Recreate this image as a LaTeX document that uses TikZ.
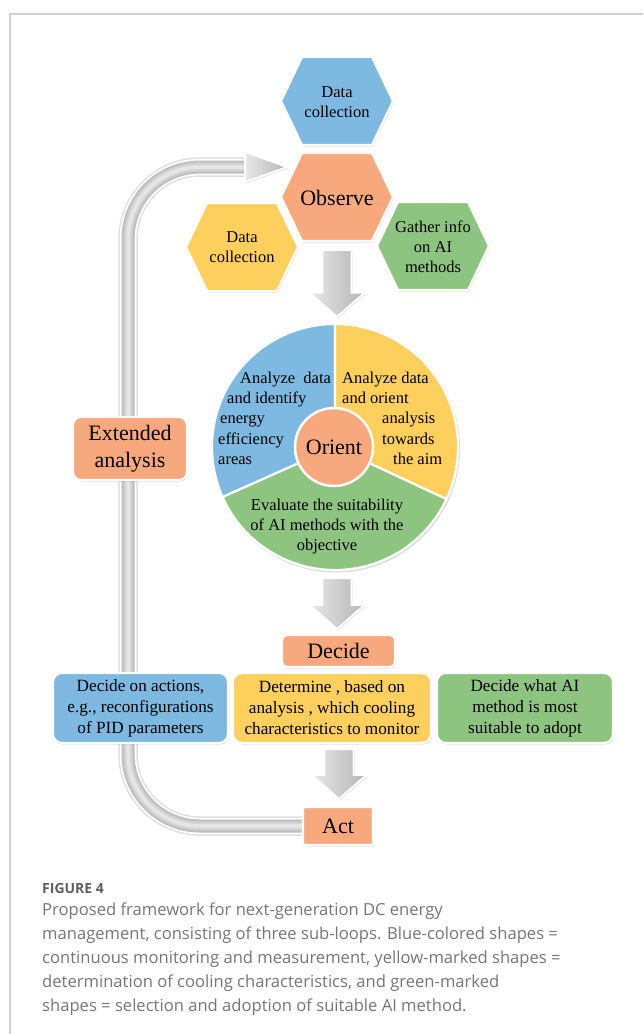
\documentclass[tikz,border=0pt]{standalone}
\usepackage{fontspec}
\setmainfont{Liberation Serif}
\newfontfamily\capfont{Open Sans}
\usetikzlibrary{calc,shadows}
\definecolor{cblue}{HTML}{7DB9E1}
\definecolor{corange}{HTML}{F8A87D}
\definecolor{cyellow}{HTML}{FDCF5C}
\definecolor{cgreen}{HTML}{8DC47F}
\definecolor{capgray}{HTML}{767676}
\definecolor{figgray}{HTML}{606060}
\definecolor{framegray}{HTML}{D2D2D2}
\newcommand{\ftsmall}{\fontsize{16.5}{20}\selectfont}
\newcommand{\ftbox}{\fontsize{17.2}{21}\selectfont}
\newcommand{\ftbig}{\fontsize{22}{27}\selectfont}
\newcommand{\ftcap}{\capfont\fontsize{16.6}{24}\selectfont}
\newcommand{\ftfig}{\capfont\bfseries\fontsize{14}{16}\selectfont}
\pgfdeclarelayer{background}
\pgfsetlayers{background,main}
\tikzset{
  edgew/.style={draw=white, line width=2.2pt,
    drop shadow={opacity=0.28, shadow xshift=1pt, shadow yshift=-1.5pt}},
  hexstyle/.style={edgew},
  box/.style={edgew, rounded corners=9pt, align=center, inner sep=0pt, font=\ftbox},
  lbl/.style={font=\ftsmall, align=center, inner sep=0pt},
  sectorlbl/.style={font=\ftsmall, anchor=base west, inner sep=0pt},
  sector/.style={draw=white, line width=2.2pt},
  blockarr/.style={draw=white, line width=1.8pt, left color=gray!18, right color=gray!58,
    drop shadow={opacity=0.22, shadow xshift=1pt, shadow yshift=-1.5pt}},
  tube/.style={gray!25, line width=19.5pt, rounded corners=72pt,
    postaction={draw=white, line width=16.5pt},
    postaction={draw=gray!52, line width=13pt},
    postaction={draw=gray!42, line width=10pt},
    postaction={draw=gray!32, line width=7pt},
    postaction={draw=gray!20, line width=3.5pt}},
  capline/.style={anchor=base west, inner sep=0pt, font=\ftcap, text=capgray}
}
\newcommand{\hexat}[3]{%
  \path[hexstyle, fill=#3] (#1-56,#2) -- (#1-35,#2-44) -- (#1+35,#2-44) -- (#1+56,#2)
    -- (#1+35,#2+44) -- (#1-35,#2+44) -- cycle;}
\newcommand{\myblockarrow}[2]{%
  \path[blockarr] let \p1=(#1), \p2=(#2) in
  (\x1-14.5pt,\y1) -- (\x1+14.5pt,\y1) -- (\x1+14.5pt,\y2+24pt) -- (\x1+27.5pt,\y2+24pt)
  -- (\x1,\y2) -- (\x1-27.5pt,\y2+24pt) -- (\x1-14.5pt,\y2+24pt) -- cycle;}
\begin{document}
\begin{tikzpicture}[x=1pt,y=-1pt]
\useasboundingbox (0,0) rectangle (643,1034);
% frame
\draw[framegray, line width=1.2pt] (10,1034) -- (10,14) -- (643,14);

% hexagons
\hexat{337}{101}{cblue}
\hexat{242}{247}{cyellow}
\hexat{433}{246}{cgreen}
\hexat{337}{197}{corange}
\node[lbl] (hblue) at (337,102) {Data\\collection};
\node[lbl] (hyell) at (242,247) {Data\\collection};
\node[lbl] (hgreen) at (433,247) {Gather info\\on AI\\methods};
\node[font=\ftbig, inner sep=0pt] (obs) at (337,198) {Observe};

% orient wheel
\node[circle, minimum size=246pt, inner sep=0pt] (oc) at (335,447) {};
\path[fill=white, drop shadow={opacity=0.28, shadow xshift=1pt, shadow yshift=-1.5pt}] (oc.center) circle[radius=124pt];
\path[sector, fill=cblue] (oc.center) -- ([shift={(oc.center)}]90:123pt) arc[start angle=90, end angle=204, radius=123pt] -- cycle;
\path[sector, fill=cgreen] (oc.center) -- ([shift={(oc.center)}]204:123pt) arc[start angle=204, end angle=335, radius=123pt] -- cycle;
\path[sector, fill=cyellow] (oc.center) -- ([shift={(oc.center)}]335:123pt) arc[start angle=335, end angle=450, radius=123pt] -- cycle;
\node[circle, fill=corange, draw=white, line width=2.5pt, minimum size=78pt, inner sep=0pt,
  font=\ftbig, drop shadow={opacity=0.28, shadow xshift=1pt, shadow yshift=-1.5pt}] (orient) at ([shift={(-1pt,0pt)}]oc.center) {Orient};
% blue sector text
\node[sectorlbl] (b1) at (240,383) {Analyze\ \ data};
\node[sectorlbl] (b2) at (227,403) {and identify};
\node[sectorlbl] (b3) at (220,423) {energy};
\node[sectorlbl] (b4) at (218,444) {efficiency};
\node[sectorlbl] (b5) at (218,464) {areas};
% yellow sector text
\node[sectorlbl] (y1) at (342,383) {Analyze data};
\node[sectorlbl] (y2) at (342,403) {and orient};
\node[sectorlbl] (y3) at (382,423) {analysis};
\node[sectorlbl] (y4) at (382,444) {towards};
\node[sectorlbl] (y5) at (393,464) {the aim};
% green sector text
\node[lbl] (g1) at (327,527) {Evaluate the suitability\\of AI methods with the\\objective};

% extended analysis
\node[box, fill=corange, minimum width=114pt, minimum height=63pt, rounded corners=8pt, font=\ftbig] (ext) at (130,448.5) {Extended\\analysis};

% decide
\node[box, fill=corange, minimum width=113pt, minimum height=32pt, rounded corners=5pt, font=\ftbig] (dec) at (338.5,651) {Decide};
\node[box, fill=cblue, minimum width=175pt, minimum height=70pt] (dblue) at (140.5,708) {Decide on actions,\\e.g., reconfigurations\\of PID parameters};
\node[box, fill=cyellow, minimum width=198pt, minimum height=70pt] (dyell) at (332,708) {Determine , based on\\analysis , which cooling\\characteristics to monitor};
\node[box, fill=cgreen, minimum width=176pt, minimum height=70pt] (dgreen) at (525,708) {Decide what AI\\method is most\\suitable to adopt};

% act
\node[box, fill=corange, minimum width=70pt, minimum height=38pt, rounded corners=2pt, font=\ftbig] (act) at (338,826) {Act};

% connectors
\coordinate (tubeend) at (245,167);
\begin{pgfonlayer}{background}
\draw[tube] (act.west) -- (128,826) -- (128,167) -- (tubeend);
\path[blockarr] (tubeend) ++(0,-15) -- (287,167) -- ($(tubeend)+(0,15)$) -- cycle;
\myblockarrow{$(obs)+(0,52)$}{$(oc.north)+(2,-7)$}
\myblockarrow{$(oc.south)+(2,8)$}{$(dec.north)+(-1.5,-5)$}
\myblockarrow{$(dyell.south)+(7,5)$}{$(act.north)+(1,-7)$}
\end{pgfonlayer}

% caption
\node[anchor=base west, inner sep=0pt, font=\ftfig, text=figgray] (figlab) at (42,893) {FIGURE 4};
\node[capline] (c1) at (42,915) {Proposed framework for next-generation DC energy};
\node[capline] (c2) at (42,939) {management, consisting of three sub-loops. Blue-colored shapes =};
\node[capline] (c3) at (42,963) {continuous monitoring and measurement, yellow-marked shapes =};
\node[capline] (c4) at (42,987) {determination of cooling characteristics, and green-marked};
\node[capline] (c5) at (42,1011) {shapes = selection and adoption of suitable AI method.};
\end{tikzpicture}
\end{document}
